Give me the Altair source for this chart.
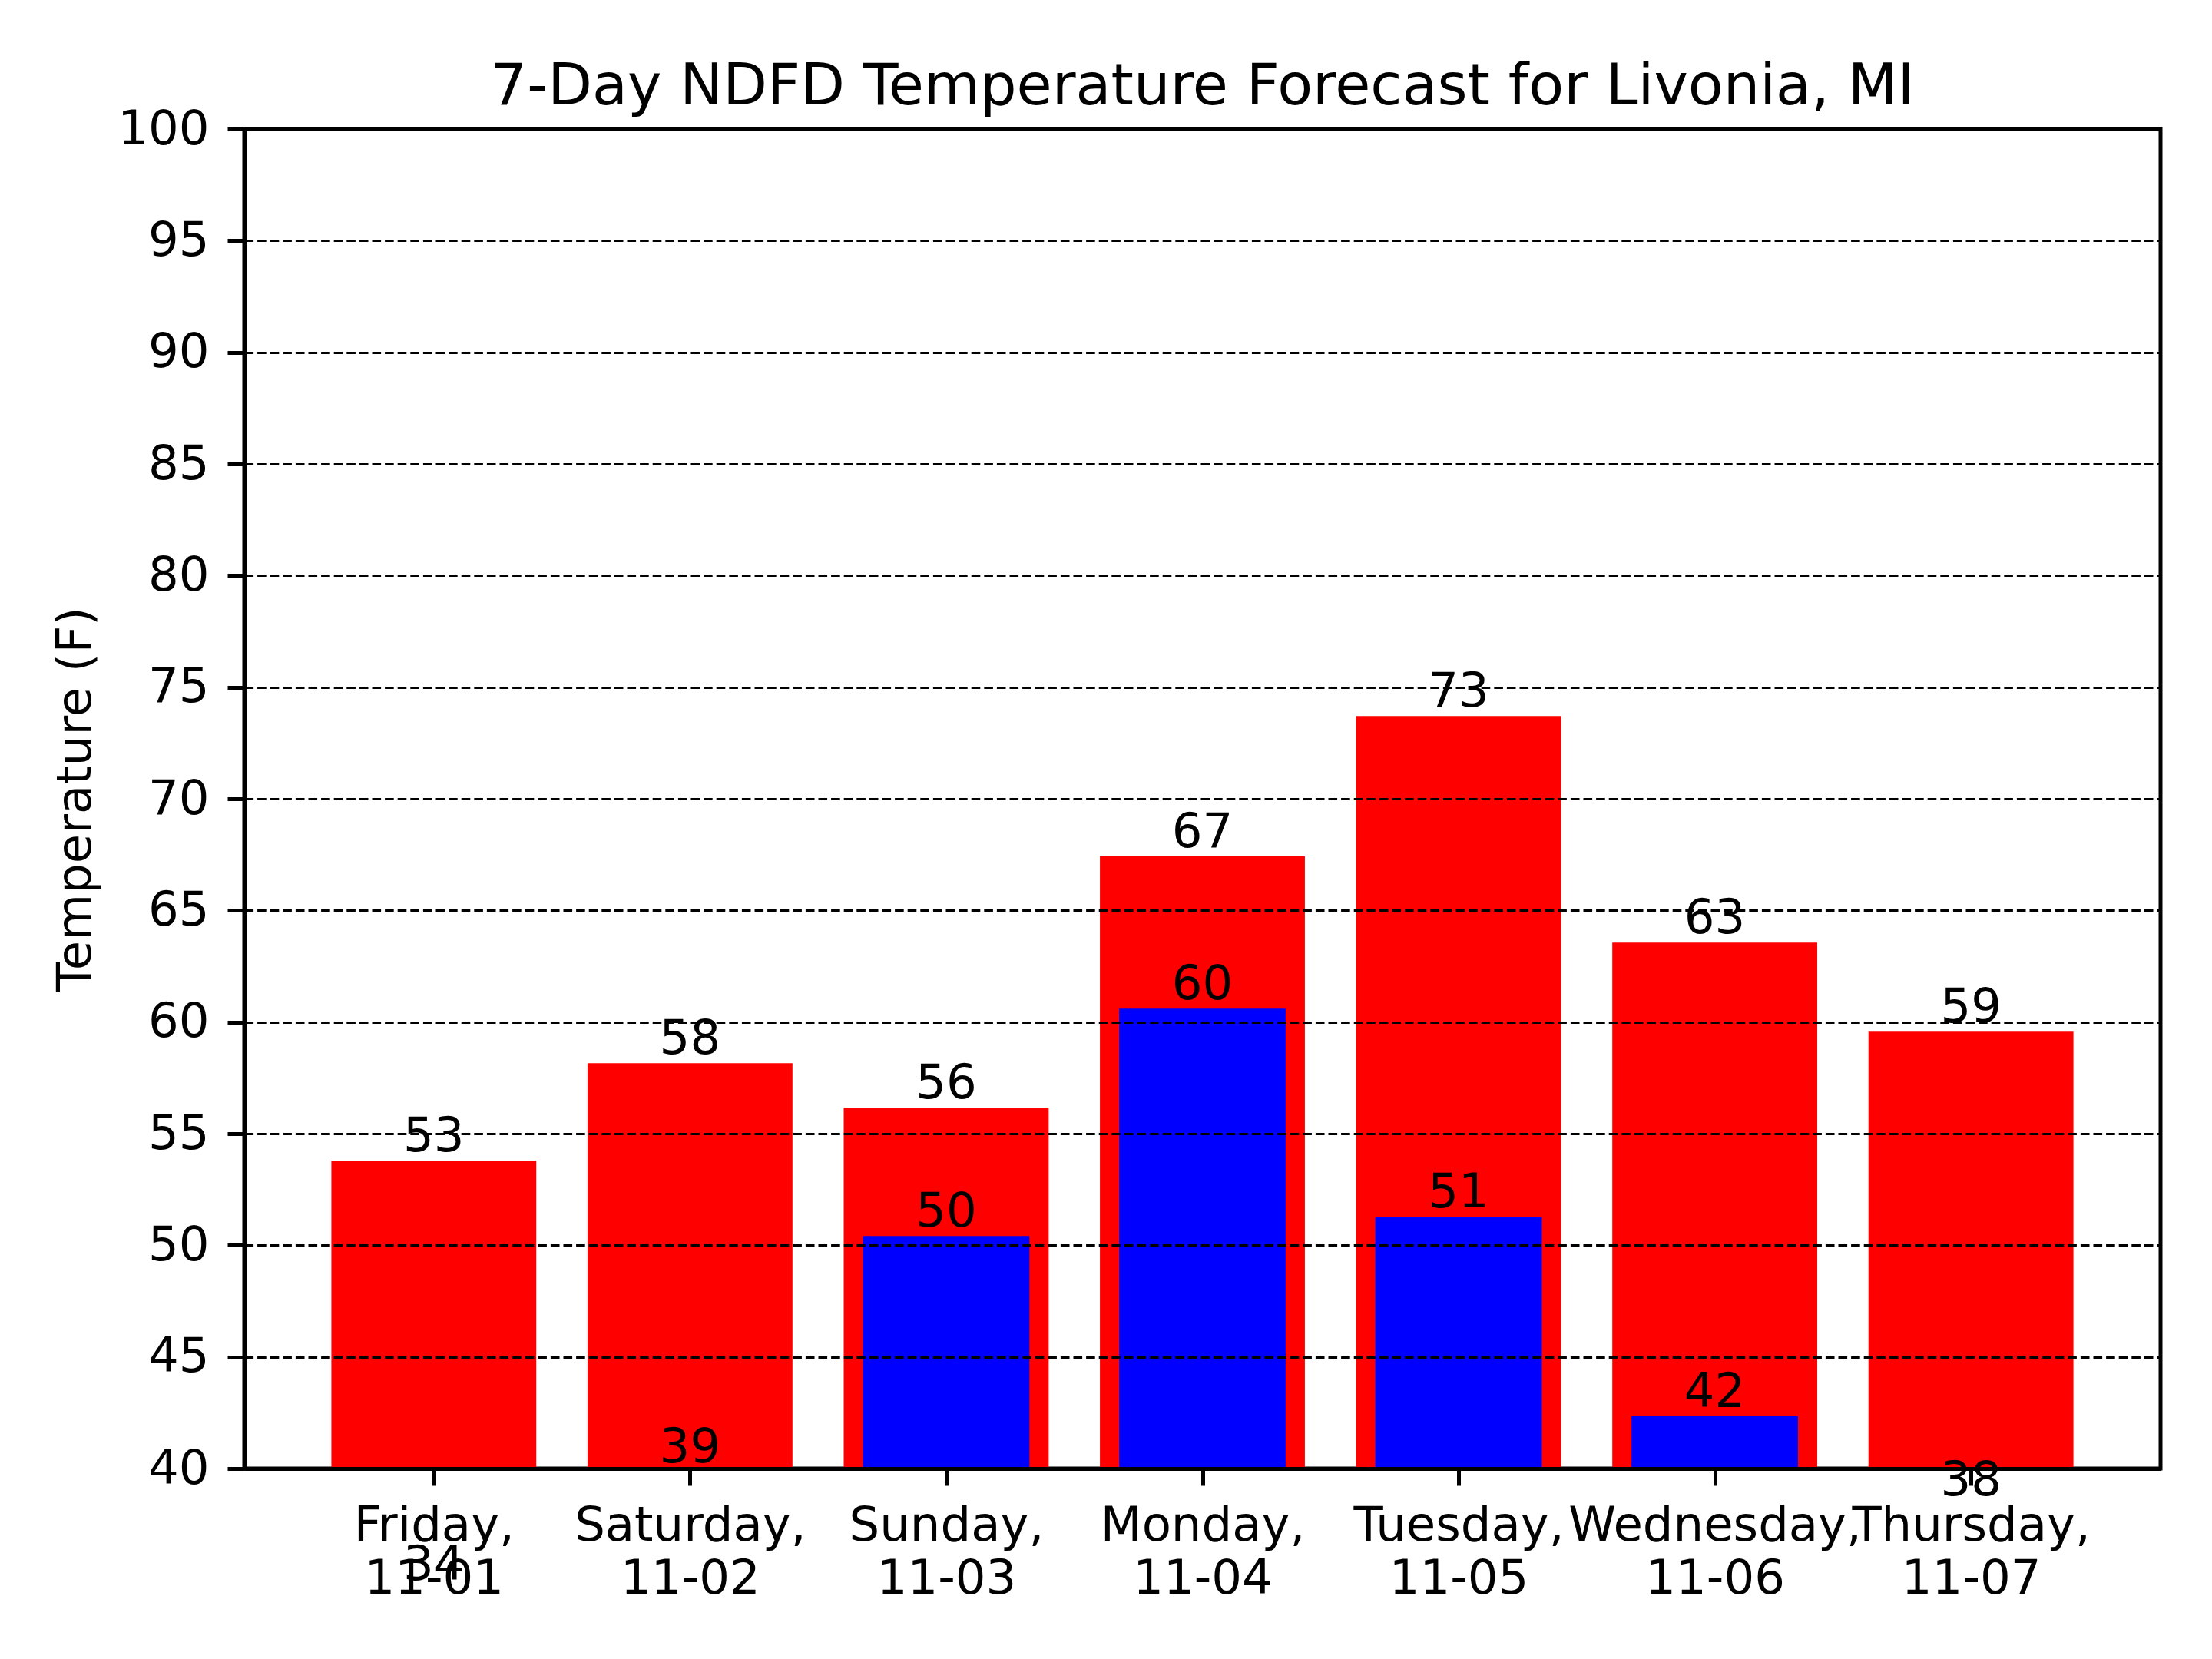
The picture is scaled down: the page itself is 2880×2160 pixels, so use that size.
import altair as alt
import pandas as pd

days = ["Friday", "Saturday", "Sunday", "Monday", "Tuesday", "Wednesday", "Thursday"]
dates = ["11-01", "11-02", "11-03", "11-04", "11-05", "11-06", "11-07"]
highs = [53.79, 58.16, 56.17, 67.42, 73.71, 63.56, 59.57]
lows = [34.6, 39.86, 50.42, 60.6, 51.28, 42.34, 38.38]
y_ticks = list(range(40, 101, 5))

df = pd.DataFrame({
    "idx": list(range(len(days))),
    "day": days,
    "date": dates,
    "high": highs,
    "low": lows,
})

FONT = "DejaVu Sans"
FS = 62.5

label_expr = "split([" + ",".join(f"'{d},|{t}'" for d, t in zip(days, dates)) + "][datum.value], '|')"

xscale = alt.Scale(domain=[-0.74, 6.74], nice=False, zero=False)
yscale = alt.Scale(domain=[40, 100], nice=False, zero=False)

x_axis = alt.Axis(
    values=list(range(len(days))), labelExpr=label_expr, title=None, grid=False,
    labelFont=FONT, labelFontSize=FS, labelColor="black", labelLineHeight=69,
    labelPadding=22, labelFlush=False, labelOverlap=False, labelBound=False,
    labelLimit=0,
    tickSize=22, tickWidth=5, tickColor="black", domainColor="black", domainWidth=5,
    zindex=1,
)
y_axis = alt.Axis(
    values=y_ticks, format="d", title="Temperature (F)", grid=True,
    gridColor="black", gridWidth=3.1, gridDash=[11.6, 5], gridOpacity=1,
    labelFont=FONT, labelFontSize=FS, labelColor="black", labelPadding=24,
    labelFlush=False, labelOverlap=False,
    titleFont=FONT, titleFontSize=FS, titleFontWeight="normal", titleColor="black",
    titlePadding=22,
    tickSize=22, tickWidth=5, tickColor="black", domainColor="black", domainWidth=5,
    zindex=1,
)

base = alt.Chart(df).transform_calculate(
    hx1="datum.idx - 0.4", hx2="datum.idx + 0.4",
    lx1="datum.idx - 0.325", lx2="datum.idx + 0.325",
    hl="'' + floor(datum.high)", ll="'' + floor(datum.low)",
)

high_bars = base.mark_bar(color="#ff0000", clip=True).encode(
    x=alt.X("hx1:Q", scale=xscale, axis=x_axis),
    x2="hx2:Q",
    y=alt.Y("high:Q", scale=yscale, axis=y_axis),
    y2=alt.datum(0),
)
low_bars = base.mark_bar(color="#0000ff", clip=True).encode(
    x=alt.X("lx1:Q", scale=xscale),
    x2="lx2:Q",
    y=alt.Y("low:Q", scale=yscale),
    y2=alt.datum(0),
)
text_style = dict(font=FONT, fontSize=FS, color="black", baseline="alphabetic",
                  align="center", dy=-12, clip=False)
high_text = base.mark_text(**text_style).encode(
    x=alt.X("idx:Q", scale=xscale),
    y=alt.Y("high:Q", scale=yscale),
    text="hl:N",
)
low_text = base.mark_text(**text_style).encode(
    x=alt.X("idx:Q", scale=xscale),
    y=alt.Y("low:Q", scale=yscale),
    text="ll:N",
)

chart = alt.layer(high_bars, low_bars, high_text, low_text).properties(
    width=2495,
    height=1744,
    title=alt.TitleParams(
        "7-Day NDFD Temperature Forecast for Livonia, MI",
        font=FONT, fontSize=75, fontWeight="normal", color="black",
        anchor="middle", baseline="bottom", offset=-90,
    ),
    padding={"left": 318, "top": 168, "right": 67, "bottom": 248},
    autosize=alt.AutoSizeParams(type="none"),
    background="white",
).configure_view(stroke="black", strokeWidth=5)

chart.save("out.html", embed_options={"renderer": "svg", "actions": False})
